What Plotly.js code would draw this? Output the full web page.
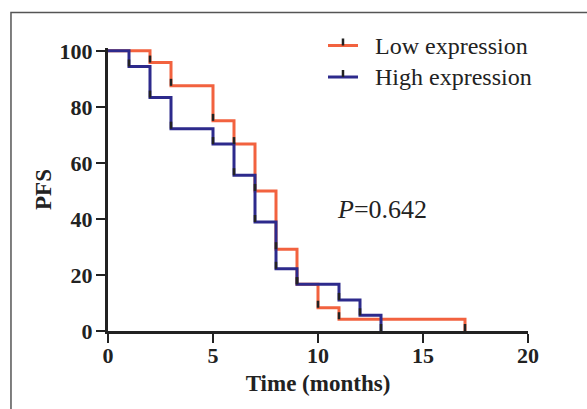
<!DOCTYPE html>
<html>
<head>
<meta charset="utf-8">
<script src="https://cdn.plot.ly/plotly-3.0.1.min.js"></script>
<style>html,body{margin:0;padding:0;background:#fff;}#chart{width:587px;height:409px;}</style>
</head>
<body>
<div id="chart"></div>
<script>
// Data (Kaplan-Meier steps)
var lowTime  = [0, 2, 3, 5, 6, 7, 8, 9, 10, 11, 17];
var lowPFS   = [100, 95.8, 87.5, 75, 66.7, 50, 29.2, 16.7, 8.3, 4.2, 0];
var highTime = [0, 1, 2, 3, 5, 6, 7, 8, 9, 11, 12, 13];
var highPFS  = [100, 94.4, 83.3, 72.2, 66.7, 55.6, 38.9, 22.2, 16.7, 11.1, 5.6, 0];
var seriesNames = ["Low expression", "High expression"];
var xTicks = [0, 5, 10, 15, 20];
var yTicks = [0, 20, 40, 60, 80, 100];
var pText = "<i>P</i>=0.642";

var lowColor = "#F2623F";
var highColor = "#2D2A8C";
var ink = "#222222";
var TICKH = 2.5; // height of black event marks in y units

function eventMarks(t, v) {
  var xs = [], ys = [];
  for (var i = 1; i < t.length; i++) {
    xs.push(t[i], t[i], null);
    ys.push(v[i], v[i] + TICKH, null);
  }
  return {xs: xs, ys: ys};
}
var mLow = eventMarks(lowTime, lowPFS);
var mHigh = eventMarks(highTime, highPFS);

var traces = [
  {x: lowTime, y: lowPFS, mode: "lines", line: {shape: "hv", color: lowColor, width: 3}, name: seriesNames[0], showlegend: false, hoverinfo: "skip"},
  {x: highTime, y: highPFS, mode: "lines", line: {shape: "hv", color: highColor, width: 3}, name: seriesNames[1], showlegend: false, hoverinfo: "skip"},
  {x: mLow.xs.concat(mHigh.xs), y: mLow.ys.concat(mHigh.ys), mode: "lines", line: {color: ink, width: 2.5}, showlegend: false, hoverinfo: "skip"}
];

var serif = "Liberation Serif, Times New Roman, serif";

var layout = {
  width: 587, height: 409,
  margin: {l: 108, r: 59, t: 48, b: 78},
  paper_bgcolor: "#fff", plot_bgcolor: "#fff",
  showlegend: false,
  xaxis: {
    range: [0, 20], tickvals: xTicks, ticktext: xTicks.map(String),
    showline: true, linecolor: ink, linewidth: 3, mirror: false,
    ticks: "outside", ticklen: 9, tickwidth: 2.5, tickcolor: ink,
    ticklabelstandoff: -6,
    showgrid: false, zeroline: false,
    tickfont: {family: serif, size: 22, color: ink, weight: "bold"},
    title: {text: "Time (months)", font: {family: serif, size: 23, color: ink, weight: "bold"}, standoff: 8}
  },
  yaxis: {
    range: [0, 101], tickvals: yTicks, ticktext: yTicks.map(String),
    showline: true, linecolor: ink, linewidth: 3,
    ticks: "outside", ticklen: 9, tickwidth: 2.5, tickcolor: ink,
    ticklabelstandoff: -1,
    showgrid: false, zeroline: false,
    tickfont: {family: serif, size: 22, color: ink, weight: "bold"},
    title: {text: "PFS", font: {family: serif, size: 23, color: ink, weight: "bold"}, standoff: 2}
  },
  shapes: [
    {type: "rect", xref: "paper", yref: "paper", x0: -0.231, x1: 1.2, y0: -0.35, y1: 1.1254, line: {color: "#555", width: 1.5}},
    {type: "line", xref: "paper", yref: "paper", x0: 0.5238, x1: 0.5952, y0: 1.0088, y1: 1.0088, line: {color: lowColor, width: 3}},
    {type: "line", xref: "paper", yref: "paper", x0: 0.5595, x1: 0.5595, y0: 1.0088, y1: 1.0336, line: {color: ink, width: 2.5}},
    {type: "line", xref: "paper", yref: "paper", x0: 0.5238, x1: 0.5952, y0: 0.8975, y1: 0.8975, line: {color: highColor, width: 3}},
    {type: "line", xref: "paper", yref: "paper", x0: 0.5595, x1: 0.5595, y0: 0.8975, y1: 0.9223, line: {color: ink, width: 2.5}}
  ],
  annotations: [
    {xref: "paper", yref: "paper", x: 0.631, y: 1.0071, xanchor: "left", yanchor: "middle", showarrow: false, text: seriesNames[0], font: {family: serif, size: 24, color: ink}},
    {xref: "paper", yref: "paper", x: 0.631, y: 0.8958, xanchor: "left", yanchor: "middle", showarrow: false, text: seriesNames[1], font: {family: serif, size: 24, color: ink}},
    {xref: "paper", yref: "paper", x: 0.6524, y: 0.431, xanchor: "center", yanchor: "middle", showarrow: false, text: pText, font: {family: serif, size: 26, color: ink}}
  ]
};

Plotly.newPlot("chart", traces, layout, {staticPlot: true, displayModeBar: false});
</script>
</body>
</html>
